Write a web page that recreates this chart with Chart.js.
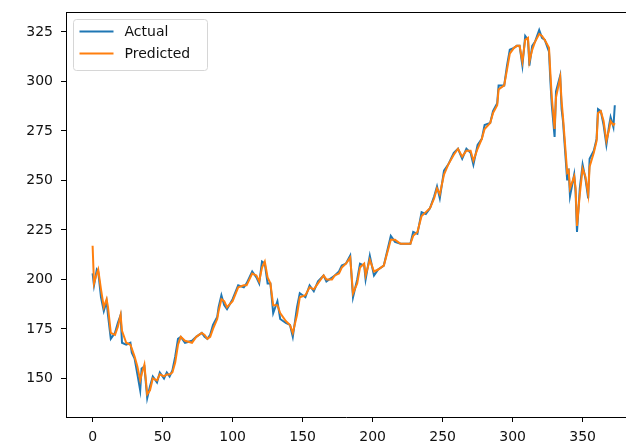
<!DOCTYPE html>
<html>
<head>
<meta charset="utf-8">
<script src="https://cdn.jsdelivr.net/npm/chart.js"></script>
<style>
  body { margin: 0; background: #fff; overflow: hidden; }
  canvas { display: block; }
</style>
</head>
<body>
<canvas id="canvas" width="626" height="443"></canvas>
<script>
// sample index (time step) of every reading
const steps = [0, 1, 3, 4, 6, 8, 10, 11, 13, 16, 18, 20, 21, 24, 27, 28, 30, 32, 34, 35, 37, 39, 41, 43, 46, 48,
  51, 53, 55, 57, 59, 61, 63, 66, 71, 74, 76, 78, 80, 82, 84, 86, 89, 90, 92, 94, 96, 100, 104, 108, 110, 114,
  117, 119, 121, 123, 125, 127, 129, 132, 134, 138, 141, 143, 146, 148, 152, 155, 158, 161, 165, 167, 171, 173,
  176, 178, 181, 184, 186, 189, 191, 194, 195, 198, 201, 204, 208, 213, 216, 220, 223, 227, 229, 232, 235, 238,
  241, 244, 246, 248, 251, 254, 258, 261, 264, 267, 270, 272, 275, 278, 280, 284, 286, 289, 290, 294, 296, 298,
  301, 303, 305, 307, 309, 311, 312, 314, 316, 319, 321, 323, 326, 327, 328, 330, 331, 334, 335, 336, 339, 340,
  341, 344, 345, 346, 348, 350, 352, 354, 355, 358, 360, 361, 363, 365, 367, 369, 370, 372, 373];

const actual = [203, 197, 205, 204, 191, 184, 189, 182, 170, 173, 178, 182, 168, 167, 168, 163, 160, 152, 144, 155, 156, 140, 146, 151, 148, 153,
  150, 153, 151, 154, 161, 170, 171, 168, 169, 171, 172, 173, 171, 170, 172, 177, 181, 186, 192, 187, 185, 190, 197, 196, 198, 204,
  201, 198, 209, 208, 198, 198, 183, 189, 180, 178, 177, 171, 186, 193, 191, 197, 194, 199, 202, 199, 201, 202,
  204, 207, 208, 212, 191, 200, 208, 207, 200, 212, 202, 205, 207, 222, 219, 218, 218, 218, 224, 223, 234, 233,
  236, 242, 247, 241, 255, 258, 264, 266, 261, 266, 264, 258, 268, 271, 278, 279, 285, 289, 298, 298, 308, 316,
  317, 318, 318, 308, 323, 321, 308, 318, 320, 326, 322, 321, 315, 300, 288, 272, 295, 303, 286, 280, 250, 256,
  242, 253, 244, 224, 246, 258, 251, 241, 261, 265, 271, 286, 285, 278, 268, 278, 282, 277, 288];

const predicted = [217, 198, 203, 205, 195, 186, 190, 186, 173, 172, 176, 182, 174, 168, 167, 165, 161, 156, 149, 152, 157, 142, 144, 150, 149, 152,
  151, 152, 152, 153, 158, 167, 171, 169, 168, 171, 172, 173, 172, 170, 171, 175, 180, 184, 190, 189, 186, 189, 196, 197, 197, 203,
  202, 199, 206, 209, 201, 198, 187, 187, 183, 179, 177, 173, 182, 191, 192, 196, 195, 198, 202, 200, 200, 202,
  203, 206, 208, 211, 193, 198, 206, 208, 202, 210, 204, 205, 207, 220, 220, 218, 218, 218, 222, 224, 232, 234,
  236, 241, 246, 243, 253, 258, 263, 266, 262, 265, 265, 260, 266, 271, 276, 279, 284, 288, 296, 298, 306, 314,
  317, 318, 318, 310, 321, 322, 310, 316, 320, 324, 323, 321, 317, 304, 292, 276, 292, 302, 290, 282, 254, 255,
  246, 252, 246, 227, 243, 256, 252, 243, 257, 264, 270, 284, 285, 280, 270, 276, 280, 278, 279];

const xTicks = [0, 50, 100, 150, 200, 250, 300, 350];
const yTicks = [150, 175, 200, 225, 250, 275, 300, 325];

const fontFam = "'DejaVu Sans', sans-serif";

function points(vals) {
  return steps.map((s, i) => ({ x: s, y: vals[i] }));
}

// matplotlib-like frame (top line) + legend inside the axes
const boxPlugin = {
  id: 'boxLegend',
  afterDraw(chart) {
    const ctx = chart.ctx;
    const a = chart.chartArea;
    ctx.save();
    ctx.strokeStyle = '#000';
    ctx.lineWidth = 1;
    ctx.beginPath();
    ctx.moveTo(a.left, a.top + 0.5);
    ctx.lineTo(a.right, a.top + 0.5);
    ctx.stroke();

    // legend
    const lx = a.left + 7.5, ly = a.top + 7.5, lw = 134, lh = 51, r = 3;
    ctx.beginPath();
    ctx.moveTo(lx + r, ly);
    ctx.lineTo(lx + lw - r, ly);
    ctx.quadraticCurveTo(lx + lw, ly, lx + lw, ly + r);
    ctx.lineTo(lx + lw, ly + lh - r);
    ctx.quadraticCurveTo(lx + lw, ly + lh, lx + lw - r, ly + lh);
    ctx.lineTo(lx + r, ly + lh);
    ctx.quadraticCurveTo(lx, ly + lh, lx, ly + lh - r);
    ctx.lineTo(lx, ly + r);
    ctx.quadraticCurveTo(lx, ly, lx + r, ly);
    ctx.fillStyle = 'rgba(255,255,255,0.8)';
    ctx.fill();
    ctx.strokeStyle = '#d6d6d6';
    ctx.stroke();

    ctx.font = '14px ' + fontFam;
    ctx.textBaseline = 'middle';
    ctx.fillStyle = '#111';
    chart.data.datasets.forEach((ds, i) => {
      const y = ly + 12 + i * 22;
      ctx.strokeStyle = ds.borderColor;
      ctx.lineWidth = 2;
      ctx.beginPath();
      ctx.moveTo(lx + 6, y);
      ctx.lineTo(lx + 40, y);
      ctx.stroke();
      ctx.fillText(ds.label, lx + 51, y + 1);
    });
    ctx.restore();
  }
};

const ctx = document.getElementById('canvas').getContext('2d');
new Chart(ctx, {
  type: 'line',
  data: {
    datasets: [{
      label: 'Actual',
      data: points(actual),
      borderColor: '#1f77b4',
      borderWidth: 2,
      pointRadius: 0,
      order: 1
    }, {
      label: 'Predicted',
      data: points(predicted),
      borderColor: '#ff7f0e',
      borderWidth: 2,
      pointRadius: 0,
      order: 0
    }]
  },
  options: {
    responsive: false,
    animation: false,
    layout: { padding: { top: 12, left: 0, right: 0, bottom: 0 } },
    plugins: { legend: { display: false }, tooltip: { enabled: false } },
    scales: {
      x: {
        type: 'linear',
        min: -19,
        max: 381,
        afterBuildTicks: s => { s.ticks = xTicks.map(v => ({ value: v })); },
        afterFit: s => { s.height = 26; s.paddingLeft = 0; s.paddingRight = 0; },
        grid: { drawOnChartArea: false, drawTicks: true, tickLength: 5, tickColor: '#000' },
        border: { display: true, color: '#000', width: 1 },
        ticks: { color: '#111', padding: 7, maxRotation: 0, font: { family: fontFam, size: 14 } }
      },
      y: {
        type: 'linear',
        min: 130.5,
        max: 335.1,
        afterBuildTicks: s => { s.ticks = yTicks.map(v => ({ value: v })); },
        afterFit: s => { s.width = 66; s.paddingTop = 0; s.paddingBottom = 0; },
        grid: { drawOnChartArea: false, drawTicks: true, tickLength: 5, tickColor: '#000' },
        border: { display: true, color: '#000', width: 1 },
        ticks: { color: '#111', padding: 8, font: { family: fontFam, size: 14 } }
      }
    }
  },
  plugins: [boxPlugin]
});
</script>
</body>
</html>
